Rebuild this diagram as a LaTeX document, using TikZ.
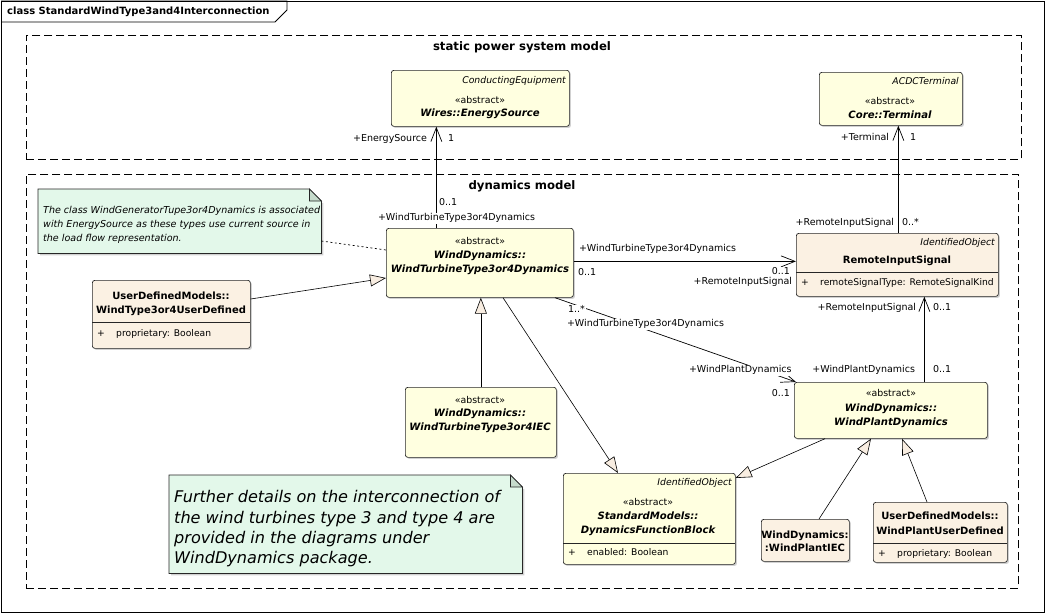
\documentclass[tikz,border=0pt]{standalone}
\usepackage{fontspec}
\setmainfont{DejaVu Sans}
\usetikzlibrary{arrows.meta,shadows}
\definecolor{clsfill}{HTML}{FFFFE0}
\definecolor{udfill}{HTML}{FBF1E3}
\definecolor{notefill}{HTML}{E3F8EA}
\definecolor{foldfill}{HTML}{C6DBCC}
\definecolor{trifill}{HTML}{F8EDE1}

\begin{document}
\begin{tikzpicture}[x=1pt,y=-1pt,
  txt/.style={font=\fontsize{9.4}{11}\selectfont, inner sep=0pt, anchor=mid},
  lbl/.style={font=\fontsize{9.5}{11}\selectfont, inner sep=0.8pt, fill=white},
  box/.style={draw=black!85, line width=0.7pt, rounded corners=2.5pt, anchor=north west, inner sep=0pt,
    drop shadow={shadow xshift=1.6pt, shadow yshift=-1.6pt, opacity=0.3, fill=black!60}},
  cls/.style={box, fill=clsfill},
  ud/.style={box, fill=udfill},
  cname/.style={font=\fontsize{10.1}{12}\selectfont\bfseries\itshape, inner sep=0pt, anchor=mid},
  cnameup/.style={font=\fontsize{10}{12}\selectfont\bfseries, inner sep=0pt, anchor=mid},
  parent/.style={font=\fontsize{9.3}{11}\selectfont\itshape, inner sep=0pt, anchor=mid east},
  attr/.style={font=\fontsize{9.2}{11}\selectfont, inner sep=0pt, anchor=mid west},
  compart/.style={draw=black!85, line width=0.7pt},
  pkg/.style={draw=black, line width=0.8pt, dash pattern=on 8pt off 4pt},
  pkgtitle/.style={font=\fontsize{11.7}{13}\selectfont\bfseries, inner sep=0pt, anchor=mid},
  assoc/.style={draw=black, line width=0.7pt, -{Straight Barb[length=14pt,width=11pt,line width=0.7pt]}},
  gen/.style={draw=black, line width=0.6pt, -{Triangle[length=16pt,width=12pt,fill=trifill,line width=0.6pt]}},
  noteshape/.style={draw=black!85, line width=0.7pt, fill=notefill},
  notearea/.style={anchor=north west, inner sep=0pt},
  n1txt/.style={font=\fontsize{9.55}{11}\selectfont\itshape, inner sep=0pt, anchor=mid west},
  n2txt/.style={font=\fontsize{16.1}{19}\selectfont\itshape, inner sep=0pt, anchor=mid west},
  notelink/.style={draw=black, line width=0.7pt, dash pattern=on 2pt off 2.5pt}
]
\useasboundingbox (0,0) rectangle (1045,613);

% diagram frame with its title tab
\node[inner sep=0pt, anchor=north west, minimum width=1043, minimum height=611, draw=black, line width=0.8pt] (frame) at (1,1) {};
\draw[line width=0.8pt] (frame.north west) -- ++(286,0) -- ++(0,9) -- ++(-12,12) -- ++(-274,0);
\node[font=\fontsize{10}{12}\selectfont\bfseries, inner sep=0pt, anchor=mid west] (ftitle) at (7,12) {class StandardWindType3and4Interconnection};

% packages
\node[pkg, inner sep=0pt, anchor=north west, minimum width=995, minimum height=124] (static) at (26,35) {};
\node[pkgtitle] (static-t) at (522,48) {static power system model};
\node[pkg, inner sep=0pt, anchor=north west, minimum width=992, minimum height=414] (dyn) at (26,174) {};
\node[pkgtitle] (dyn-t) at (522,187) {dynamics model};

% Wires::EnergySource
\node[cls, minimum width=178, minimum height=56] (es) at (391,70) {};
\node[parent] (es-p) at (566,81) {ConductingEquipment};
\node[txt] (es-s) at (480,101) {«abstract»};
\node[cname] (es-n) at (480,114) {Wires::EnergySource};

% Core::Terminal
\node[cls, minimum width=143, minimum height=53] (term) at (819,72) {};
\node[parent] (term-p) at (959,82) {ACDCTerminal};
\node[txt] (term-s) at (890,102) {«abstract»};
\node[cname] (term-n) at (890,116) {Core::Terminal};

% WindDynamics::WindTurbineType3or4Dynamics
\node[cls, minimum width=187, minimum height=69] (wtt) at (386,228) {};
\node[txt] (wtt-s) at (480,242) {«abstract»};
\node[cname] (wtt-n1) at (480,256) {WindDynamics::};
\node[cname] (wtt-n2) at (480,270) {WindTurbineType3or4Dynamics};

% RemoteInputSignal
\node[ud, minimum width=202, minimum height=63] (ris) at (796,233) {};
\node[parent] (ris-p) at (995,243) {IdentifiedObject};
\node[cnameup] (ris-n) at (897,261) {RemoteInputSignal};
\draw[compart] (796,272) -- (998,272);
\node[attr] (ris-a0) at (801,283) {+};
\node[attr] (ris-a1) at (820,283) {remoteSignalType: RemoteSignalKind};

% WindDynamics::WindPlantDynamics
\node[cls, minimum width=193, minimum height=56] (wpd) at (794,382) {};
\node[txt] (wpd-s) at (891,394) {«abstract»};
\node[cname] (wpd-n1) at (891,409) {WindDynamics::};
\node[cname] (wpd-n2) at (891,423) {WindPlantDynamics};

% WindDynamics::WindTurbineType3or4IEC
\node[cls, minimum width=151, minimum height=70] (iec) at (405,387) {};
\node[txt] (iec-s) at (480,401) {«abstract»};
\node[cname] (iec-n1) at (480,414) {WindDynamics::};
\node[cname] (iec-n2) at (480,428) {WindTurbineType3or4IEC};

% StandardModels::DynamicsFunctionBlock
\node[cls, minimum width=172, minimum height=91] (dfb) at (563,473) {};
\node[parent] (dfb-p) at (732,483) {IdentifiedObject};
\node[txt] (dfb-s) at (648,503) {«abstract»};
\node[cname] (dfb-n1) at (648,517) {StandardModels::};
\node[cname] (dfb-n2) at (648,531) {DynamicsFunctionBlock};
\draw[compart] (563,543) -- (735,543);
\node[attr] (dfb-a0) at (568,553) {+};
\node[attr] (dfb-a1) at (587,553) {enabled: Boolean};

% WindDynamics::WindPlantIEC
\node[ud, minimum width=88, minimum height=42] (wpiec) at (761,519) {};
\node[cnameup] (wpiec-n1) at (805,536) {WindDynamics:};
\node[cnameup] (wpiec-n2) at (805,549) {:WindPlantIEC};

% UserDefinedModels::WindPlantUserDefined
\node[ud, minimum width=134, minimum height=60] (wpud) at (873,502) {};
\node[cnameup] (wpud-n1) at (940,517) {UserDefinedModels::};
\node[cnameup] (wpud-n2) at (940,532) {WindPlantUserDefined};
\draw[compart] (873,543) -- (1007,543);
\node[attr] (wpud-a0) at (878,554) {+};
\node[attr] (wpud-a1) at (897,554) {proprietary: Boolean};

% UserDefinedModels::WindType3or4UserDefined
\node[ud, minimum width=158, minimum height=68] (wud) at (92,280) {};
\node[cnameup] (wud-n1) at (171,297) {UserDefinedModels::};
\node[cnameup] (wud-n2) at (171,311) {WindType3or4UserDefined};
\draw[compart] (92,322) -- (250,322);
\node[attr] (wud-a0) at (97,334) {+};
\node[attr] (wud-a1) at (116,334) {proprietary: Boolean};

% note attached to WindTurbineType3or4Dynamics
\node[notearea, minimum width=283, minimum height=64] (n1) at (38,189) {};
\fill[black!60, opacity=0.3] ([shift={(2,2)}]n1.north west) ++(0,2) -- ([shift={(2,2)}]n1.south west) -- ([shift={(2,2)}]n1.south east) -- ([shift={(2,14)}]n1.north east) -- cycle;
\draw[noteshape] (n1.north west) -- ([xshift=-12pt]n1.north east) -- ([yshift=-12pt]n1.north east) -- (n1.south east) -- (n1.south west) -- cycle;
\draw[draw=black!85, line width=0.7pt, fill=foldfill] ([xshift=-12pt]n1.north east) -- ([xshift=-12pt,yshift=-12pt]n1.north east) -- ([yshift=-12pt]n1.north east) -- cycle;
\node[n1txt] (n1-l1) at (43,211) {The class WindGeneratorTupe3or4Dynamics is associated};
\node[n1txt] (n1-l2) at (43,225) {with EnergySource as these types use current source in};
\node[n1txt] (n1-l3) at (43,239) {the load flow representation.};

% note on further details
\node[notearea, minimum width=353, minimum height=98] (n2) at (169,475) {};
\fill[black!60, opacity=0.3] ([shift={(2,2)}]n2.north west) ++(0,2) -- ([shift={(2,2)}]n2.south west) -- ([shift={(2,2)}]n2.south east) -- ([shift={(2,14)}]n2.north east) -- cycle;
\draw[noteshape] (n2.north west) -- ([xshift=-12pt]n2.north east) -- ([yshift=-12pt]n2.north east) -- (n2.south east) -- (n2.south west) -- cycle;
\draw[draw=black!85, line width=0.7pt, fill=foldfill] ([xshift=-12pt]n2.north east) -- ([xshift=-12pt,yshift=-12pt]n2.north east) -- ([yshift=-12pt]n2.north east) -- cycle;
\node[n2txt] (n2-l1) at (174,500) {Further details on the interconnection of};
\node[n2txt] (n2-l2) at (174,520.5) {the wind turbines type 3 and type 4 are};
\node[n2txt] (n2-l3) at (174,541) {provided in the diagrams under};
\node[n2txt] (n2-l4) at (174,561) {WindDynamics package.};

% connector anchor points on the class borders
\coordinate (esA) at ([xshift=-44pt]es.south);
\coordinate (termA) at ([xshift=7.5pt]term.south);
\coordinate (risA) at ([yshift=3.5pt]ris.west);
\coordinate (wpdA) at ([xshift=33.5pt]wpd.north);

% note link
\draw[notelink] ([yshift=-52pt]n1.north east) -- ([yshift=-22pt]wtt.north west);

% associations
\draw[assoc] (wtt.north -| esA) -- (esA);
\draw[assoc] (ris.north -| termA) -- (termA);
\draw[assoc] (wtt.east |- risA) -- (risA);
\draw[assoc] (wpdA) -- (wpdA |- ris.south);
\draw[assoc] ([xshift=169pt]wtt.south west) -- ([xshift=2pt]wpd.north west);

% generalizations
\draw[gen] (iec.north) -- (iec.north |- wtt.south);
\draw[gen] ([xshift=117pt]wtt.south west) -- ([xshift=55pt]dfb.north west);
\draw[gen] ([xshift=31pt]wpd.south west) -- ([yshift=-5pt]dfb.north east);
\draw[gen] ([xshift=58pt]wpiec.north west) -- ([xshift=77pt]wpd.south west);
\draw[gen] ([xshift=54pt]wpud.north west) -- ([xshift=108pt]wpd.south west);
\draw[gen] ([yshift=-19pt]wud.north east) -- ([yshift=-50pt]wtt.north west);

% association end labels
\node[lbl, anchor=mid east] (l1) at (428,139) {+EnergySource};
\node[lbl, anchor=mid west] (l2) at (447,139) {1};
\node[lbl, anchor=mid west] (l3) at (438,203) {0..1};
\node[lbl, anchor=mid west] (l4) at (377,218) {+WindTurbineType3or4Dynamics};
\node[lbl, anchor=mid east] (l5) at (890,138) {+Terminal};
\node[lbl, anchor=mid west] (l6) at (909,138) {1};
\node[lbl, anchor=mid east] (l7) at (895,223) {+RemoteInputSignal};
\node[lbl, anchor=mid west] (l8) at (901,223) {0..*};
\node[lbl, anchor=mid west] (l9) at (578,249) {+WindTurbineType3or4Dynamics};
\node[lbl, anchor=mid west] (l10) at (577,273) {0..1};
\node[lbl, anchor=mid east] (l11) at (791,272) {0..1};
\node[lbl, anchor=mid east] (l12) at (793,282) {+RemoteInputSignal};
\node[lbl, anchor=mid east] (l13) at (917,308) {+RemoteInputSignal};
\node[lbl, anchor=mid west] (l14) at (932,308) {0..1};
\node[lbl, anchor=mid east] (l15) at (916,370) {+WindPlantDynamics};
\node[lbl, anchor=mid west] (l16) at (932,370) {0..1};
\node[lbl, anchor=mid west] (l17) at (567,310) {1..*};
\node[lbl, anchor=mid west] (l18) at (566,324) {+WindTurbineType3or4Dynamics};
\node[lbl, anchor=mid west] (l19) at (688,370) {+WindPlantDynamics};
\node[lbl, anchor=mid east] (l20) at (791,394) {0..1};
\end{tikzpicture}
\end{document}
